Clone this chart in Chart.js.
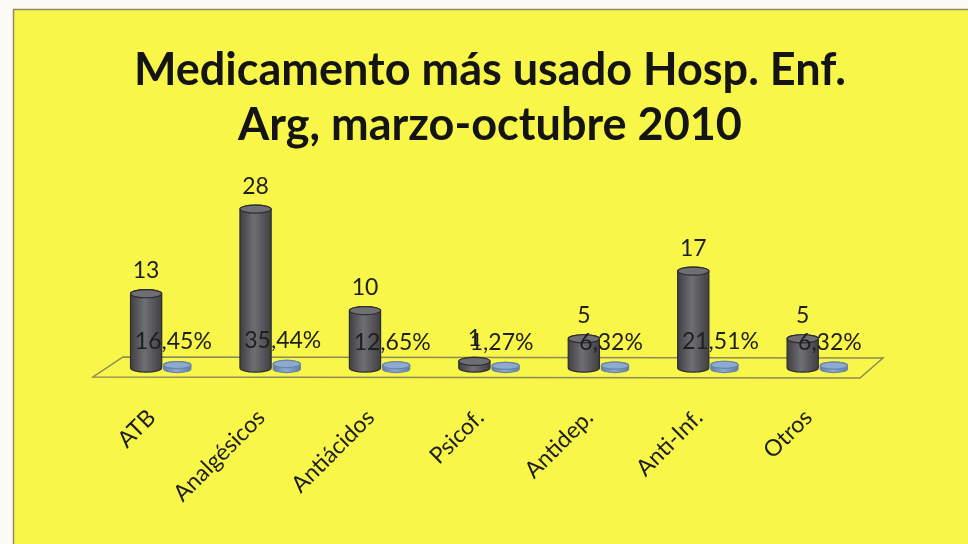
<!DOCTYPE html>
<html>
<head>
<meta charset="utf-8">
<script src="https://cdn.jsdelivr.net/npm/chart.js@4"></script>
<style>
  html, body { margin: 0; padding: 0; background: #ffffff; }
  #wrap { width: 968px; height: 544px; }
</style>
</head>
<body>
<div id="wrap"><canvas id="chart" width="968" height="544"></canvas></div>
<script>
// chart values
const categories = ["ATB", "Analgésicos", "Antiácidos", "Psicof.", "Antidep.", "Anti-Inf.", "Otros"];
const counts = [13, 28, 10, 1, 5, 17, 5];
const shares = [0.1645, 0.3544, 0.1265, 0.0127, 0.0632, 0.2151, 0.0632];
const shareLabels = ["16,45%", "35,44%", "12,65%", "1,27%", "6,32%", "21,51%", "6,32%"];

const YELLOW = "#f9f64a";
const FONT = "Lato, 'DejaVu Sans', sans-serif";

// page background: white strip + yellow panel
const panelBg = {
    id: "panelBg",
    beforeDraw(chart) {
        const ctx = chart.ctx;
        ctx.save();
        ctx.fillStyle = "#fdfbf6";
        ctx.fillRect(0, 0, chart.width, chart.height);
        ctx.fillStyle = YELLOW;
        ctx.fillRect(13, 9, chart.width - 13, chart.height - 9);
        ctx.strokeStyle = "#8b8a6a";
        ctx.lineWidth = 1.5;
        ctx.beginPath();
        ctx.moveTo(13.5, chart.height);
        ctx.lineTo(13.5, 9.5);
        ctx.lineTo(chart.width, 9.5);
        ctx.stroke();
        ctx.restore();
    }
};

// 3d floor under the bars
const floor3d = {
    id: "floor3d",
    beforeDatasetsDraw(chart) {
        const ctx = chart.ctx;
        const area = chart.chartArea;
        const y0 = chart.scales.y.getPixelForValue(0);
        ctx.save();
        ctx.strokeStyle = "#8d8a5c";
        ctx.lineWidth = 1.5;
        ctx.beginPath();
        ctx.moveTo(area.left + 16, y0 - 10);
        ctx.lineTo(area.right + 10, y0 - 9);
        ctx.lineTo(area.right - 13, y0 + 11);
        ctx.lineTo(area.left - 14, y0 + 10);
        ctx.closePath();
        ctx.stroke();
        ctx.restore();
    }
};

function cylinder(ctx, x, top, base, w, dark, light, edge) {
    const r = w / 2;
    const ry = Math.max(3, w * 0.13);
    const g = ctx.createLinearGradient(x - r, 0, x + r, 0);
    g.addColorStop(0, dark);
    g.addColorStop(0.45, light);
    g.addColorStop(1, dark);
    ctx.fillStyle = g;
    ctx.strokeStyle = edge;
    ctx.lineWidth = 1.2;
    ctx.beginPath();
    ctx.moveTo(x - r, top);
    ctx.lineTo(x - r, base);
    ctx.ellipse(x, base, r, ry, 0, Math.PI, 0, true);
    ctx.lineTo(x + r, top);
    ctx.ellipse(x, top, r, ry, 0, 0, Math.PI, true);
    ctx.closePath();
    ctx.fill();
    ctx.stroke();
    ctx.beginPath();
    ctx.ellipse(x, top, r, ry, 0, 0, Math.PI * 2);
    ctx.fillStyle = light;
    ctx.fill();
    ctx.stroke();
}

// draw cylinders and value labels from the bar elements
const cylinders = {
    id: "cylinders",
    afterDatasetsDraw(chart) {
        const ctx = chart.ctx;
        ctx.save();
        const gray = chart.getDatasetMeta(0).data;
        const blue = chart.getDatasetMeta(1).data;
        blue.forEach(b => {
            const p = b.getProps(["x", "y", "base", "width"], true);
            cylinder(ctx, p.x, p.y - 1, p.base + 2, p.width - 4, "#5f7ea6", "#8eaad0", "#6a84a8");
        });
        gray.forEach(b => {
            const p = b.getProps(["x", "y", "base", "width"], true);
            cylinder(ctx, p.x, p.y, p.base + 1, p.width, "#404044", "#6e6e73", "#2c2c30");
        });
        ctx.fillStyle = "#1e1e1e";
        ctx.font = "23px " + FONT;
        ctx.textAlign = "center";
        ctx.textBaseline = "middle";
        gray.forEach((b, i) => {
            ctx.fillText(String(counts[i]), b.x, b.y - 23);
        });
        blue.forEach((b, i) => {
            ctx.fillText(shareLabels[i], b.x - 4, b.y - 24);
        });
        ctx.restore();
    }
};

new Chart(document.getElementById("chart"), {
    type: "bar",
    data: {
        labels: categories,
        datasets: [
            { label: "Cantidad", data: counts, backgroundColor: "rgba(0,0,0,0)", borderWidth: 0 },
            { label: "Porcentaje", data: shares, backgroundColor: "rgba(0,0,0,0)", borderWidth: 0 }
        ]
    },
    options: {
        responsive: false,
        animation: false,
        events: [],
        layout: { padding: { left: 107, right: 95, top: 0, bottom: 0 } },
        datasets: { bar: { categoryPercentage: 0.57, barPercentage: 1.0 } },
        plugins: {
            legend: { display: false },
            tooltip: { enabled: false },
            title: {
                display: true,
                text: ["Medicamento más usado Hosp. Enf.", "Arg, marzo-octubre 2010"],
                color: "#141414",
                font: { family: FONT, size: 45, weight: "bold", lineHeight: 1.22 },
                padding: { top: 43, bottom: 45 }
            }
        },
        scales: {
            x: {
                grid: { display: false, drawTicks: false },
                border: { display: false },
                ticks: {
                    color: "#1e1e1e",
                    font: { family: FONT, size: 23 },
                    maxRotation: 45,
                    minRotation: 45,
                    padding: 37,
                    labelOffset: -10
                },
                afterFit(axis) { axis.height = 177; }
            },
            y: {
                display: false,
                min: 0,
                max: 30
            }
        }
    },
    plugins: [panelBg, floor3d, cylinders]
});
</script>
</body>
</html>
